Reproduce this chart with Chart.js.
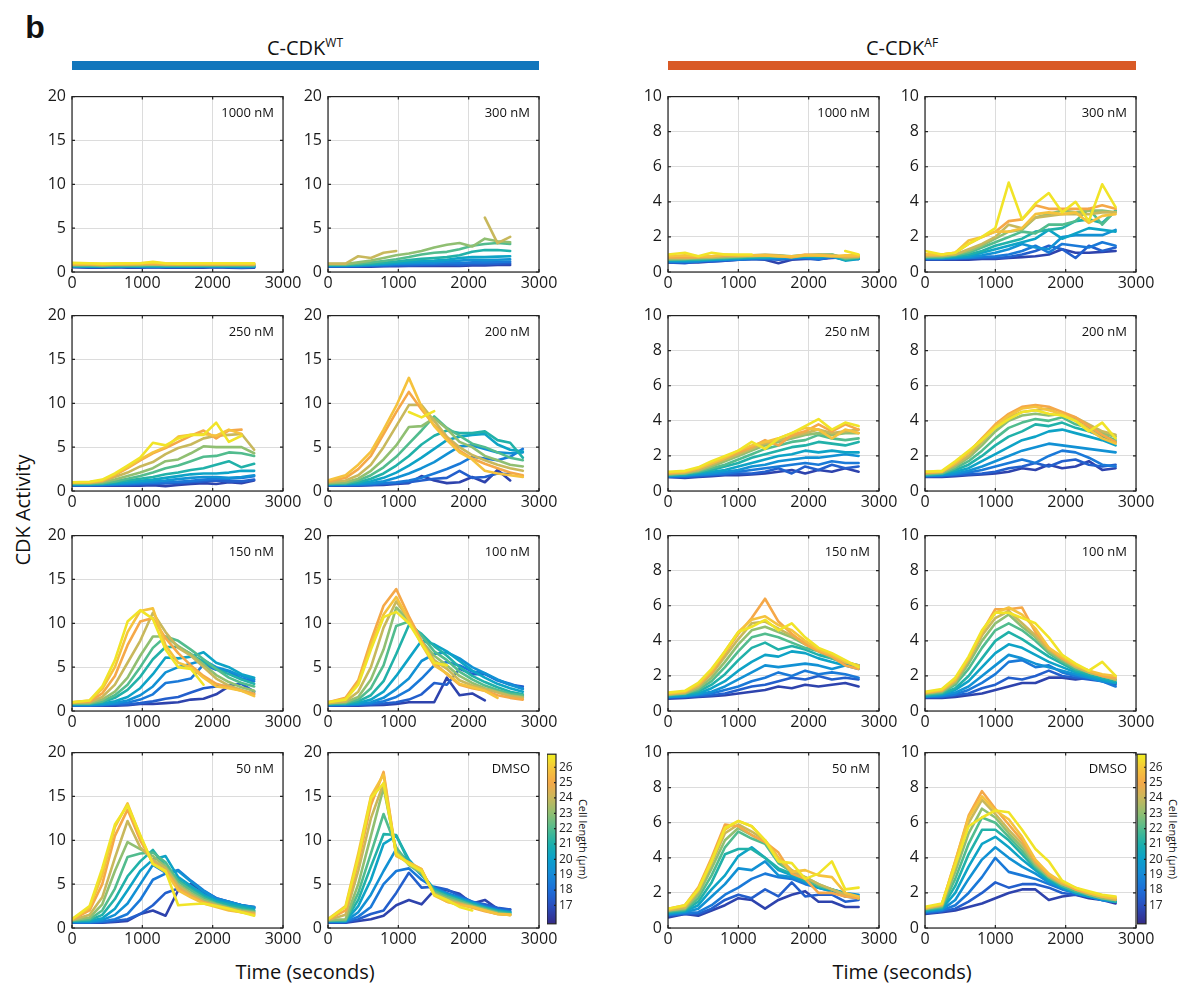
<!DOCTYPE html>
<html><head><meta charset="utf-8">
<script src="https://cdn.jsdelivr.net/npm/chart.js@4"></script>
<style>
body{margin:0;background:#fff;width:1184px;height:1001px;position:relative;overflow:hidden;font-family:'Open Sans',sans-serif;}
canvas{position:absolute;}
.t{position:absolute;white-space:nowrap;color:#111;transform:translate(-50%,-50%);}
.bar{position:absolute;}
</style></head><body>
<div class="t" style="left:35px;top:27px;font:bold 32px 'Liberation Sans',Arial,sans-serif;">b</div>
<div class="t" style="left:305px;top:47px;font-size:20px;">C-CDK<sup style="font-size:12px;vertical-align:8px;">WT</sup></div>
<div class="t" style="left:902px;top:47px;font-size:20px;">C-CDK<sup style="font-size:12px;vertical-align:8px;">AF</sup></div>
<div class="bar" style="left:72px;top:61px;width:467px;height:9px;background:#1176bc;"></div>
<div class="bar" style="left:668px;top:61px;width:468px;height:9px;background:#d95a26;"></div>
<div class="t" style="left:22px;top:510px;font-size:20px;transform:translate(-50%,-50%) rotate(-90deg);">CDK Activity</div>
<div class="t" style="left:305px;top:971px;font-size:20px;">Time (seconds)</div>
<div class="t" style="left:902px;top:971px;font-size:20px;">Time (seconds)</div>
<div class="t" style="left:583px;top:839px;font-size:11px;transform:translate(-50%,-50%) rotate(90deg);">Cell length (μm)</div>
<div class="t" style="left:1173px;top:839px;font-size:11px;transform:translate(-50%,-50%) rotate(90deg);">Cell length (μm)</div>
<script>
// ---------------- DATA ----------------
const timesWT = [0,250,430,610,790,970,1150,1330,1510,1690,1870,2050,2230,2410,2590,2770];
const timesAF = [0,240,430,620,810,1000,1190,1380,1570,1760,1950,2140,2330,2520,2710];
const lengths = [16.6,17.5,18.4,19.3,20.2,21.1,22.0,23.0,24.0,25.0,25.8,26.6];
const xTicks = [0,1000,2000,3000];
const yTicksWT = [0,5,10,15,20];
const yTicksAF = [0,2,4,6,8,10];
const cbTicks = [17,18,19,20,21,22,23,24,25,26];
const cbRange = [15.8,26.85];

const wt1000 = [
 [0.55,0.5,0.5,0.55,0.5,0.5,0.55,0.5,0.5,0.5,0.5,0.55,0.5,0.45,0.5],
 [0.6,0.55,0.55,0.55,0.6,0.55,0.55,0.55,0.55,0.55,0.6,0.55,0.55,0.5,0.55],
 [0.6,0.6,0.6,0.6,0.6,0.6,0.6,0.6,0.6,0.6,0.6,0.6,0.6,0.55,0.6],
 [0.65,0.6,0.6,0.65,0.65,0.6,0.65,0.6,0.65,0.6,0.65,0.65,0.6,0.6,0.6],
 [0.7,0.65,0.65,0.65,0.7,0.65,0.7,0.65,0.65,0.65,0.7,0.7,0.65,0.65,0.65],
 [0.7,0.7,0.7,0.7,0.7,0.7,0.7,0.7,0.7,0.7,0.7,0.7,0.7,0.7,0.7],
 [0.75,0.75,0.7,0.75,0.75,0.75,0.8,0.75,0.75,0.75,0.75,0.75,0.75,0.75,0.75],
 [0.8,0.8,0.75,0.8,0.8,0.8,0.85,0.8,0.8,0.8,0.8,0.8,0.8,0.8,0.8],
 [0.85,0.85,0.8,0.85,0.85,0.85,0.9,0.85,0.85,0.85,0.85,0.85,0.85,0.85,0.85],
 [0.9,0.9,0.85,0.9,0.9,0.95,0.95,0.9,0.9,0.9,0.9,0.9,0.9,0.9,0.9],
 [0.95,0.95,0.9,0.95,0.95,1.0,1.05,0.95,0.95,0.95,0.95,0.95,0.95,0.95,0.95],
 [1.05,1.0,0.95,0.95,1.0,1.0,1.15,1.0,0.95,1.0,1.0,1.0,1.0,1.0,1.0]
];
const wt300 = [
 [0.6,0.6,0.6,0.6,0.65,0.65,0.7,0.7,0.7,0.7,0.7,0.75,0.75,0.8,0.8],
 [0.65,0.65,0.65,0.7,0.7,0.75,0.75,0.8,0.8,0.85,0.8,0.9,0.9,0.95,1.0],
 [0.7,0.7,0.7,0.75,0.8,0.85,0.9,0.9,0.95,1.0,1.0,1.1,1.1,1.15,1.2],
 [0.7,0.7,0.75,0.8,0.85,0.95,1.0,1.05,1.1,1.2,1.3,1.4,1.35,1.4,1.45],
 [0.75,0.75,0.8,0.85,0.95,1.05,1.15,1.25,1.3,1.4,1.6,1.7,1.7,1.75,1.8],
 [0.8,0.8,0.85,0.95,1.05,1.2,1.35,1.5,1.6,1.7,1.9,2.3,2.5,2.5,2.4],
 [0.85,0.85,0.95,1.1,1.25,1.45,1.7,2.0,2.2,2.3,2.6,3.0,3.2,3.3,3.2],
 [0.9,0.9,1.1,1.3,1.6,1.9,2.1,2.4,2.8,3.1,3.3,2.9,3.8,3.5,3.4],
 [0.95,0.95,1.8,1.6,2.2,2.4,null,null,null,null,null,null,6.2,3.3,4.0]
];
const wt250 = [
 [0.6,0.6,0.6,0.6,0.6,0.6,0.65,0.55,0.7,0.8,0.9,0.8,1.0,0.9,1.2],
 [0.65,0.65,0.65,0.7,0.7,0.75,0.8,0.85,0.9,1.0,1.1,1.2,1.1,1.1,1.3],
 [0.7,0.7,0.7,0.75,0.8,0.85,0.95,1.0,1.05,1.15,1.3,1.4,1.4,1.5,1.7],
 [0.7,0.7,0.75,0.8,0.9,1.0,1.1,1.2,1.35,1.5,1.6,1.6,1.5,1.6,1.8],
 [0.75,0.75,0.8,0.9,1.0,1.15,1.3,1.5,1.7,1.9,2.0,2.0,2.1,2.3,2.3],
 [0.8,0.8,0.85,1.0,1.2,1.4,1.6,1.9,2.1,2.4,2.6,3.0,3.4,2.7,3.1],
 [0.85,0.85,0.9,1.1,1.4,1.7,2.1,2.6,2.9,3.4,3.9,4.0,4.4,4.3,4.0],
 [0.9,0.9,1.0,1.3,1.7,2.1,2.6,3.4,3.6,4.3,5.1,5.0,5.0,5.0,4.3],
 [0.95,0.95,1.1,1.6,2.1,2.8,3.3,4.2,4.9,5.3,6.0,6.3,6.4,6.5,4.7],
 [1.0,1.0,1.2,1.8,2.6,3.5,4.3,4.9,5.6,6.3,6.9,6.0,6.9,7.0,null],
 [1.0,1.0,1.2,1.9,2.7,3.6,4.4,5.0,6.2,6.4,6.5,6.3,7.0,6.5,null],
 [1.0,1.05,1.3,2.0,2.9,3.8,5.5,5.2,6.0,6.4,6.4,7.8,5.6,6.3,null]
];
const wt200 = [
 [0.6,0.6,0.6,0.65,0.7,0.8,0.9,1.7,1.2,0.9,1.0,1.6,1.0,2.4,1.2,null],
 [0.65,0.65,0.65,0.7,0.8,0.9,1.0,1.2,1.4,1.5,2.3,1.5,1.6,2.0,1.9,null],
 [0.7,0.7,0.7,0.8,0.9,1.0,1.2,1.5,2.0,2.5,3.1,3.9,3.7,3.5,3.9,4.8],
 [0.7,0.75,0.8,0.9,1.1,1.5,2.0,2.6,3.3,4.2,5.1,5.2,4.8,4.4,4.3,4.4],
 [0.75,0.8,0.9,1.1,1.5,2.1,2.9,3.8,4.8,5.8,6.2,6.4,6.5,5.3,4.7,4.5],
 [0.8,0.85,1.0,1.4,2.0,2.9,4.0,5.3,6.3,6.9,6.6,6.6,6.8,5.8,5.5,3.8],
 [0.85,0.9,1.2,1.8,2.7,3.9,5.4,6.9,8.5,7.2,6.3,5.4,5.0,4.4,3.8,3.5],
 [0.9,1.0,1.4,2.3,3.6,5.2,7.3,7.4,8.3,7.1,5.6,5.0,4.0,3.5,3.0,2.8],
 [1.0,1.2,1.8,3.0,5.0,7.4,9.8,9.8,8.0,6.2,5.0,4.1,3.5,3.0,2.6,2.3],
 [1.1,1.5,2.5,4.0,6.5,9.0,11.3,9.3,7.5,6.0,4.6,3.7,3.1,2.6,2.1,1.8],
 [1.2,1.8,3.0,4.5,7.0,9.7,12.9,9.6,7.4,5.8,4.4,3.6,2.3,2.0,1.8,1.6],
 [null,null,null,null,null,null,9.0,8.4,9.1,null,null,null,null,null,null,null]
];
const wt150 = [
 [0.6,0.6,0.6,0.6,0.65,0.8,0.8,0.9,1.0,1.3,1.4,1.9,2.8],
 [0.6,0.6,0.65,0.7,0.75,0.9,1.1,1.4,1.6,2.1,2.6,2.8,2.9,3.1,2.2],
 [0.65,0.65,0.7,0.8,0.95,1.3,1.9,3.2,3.4,3.7,5.3,4.7,4.5,3.7,3.4],
 [0.7,0.7,0.75,0.9,1.2,1.8,2.8,4.4,5.0,5.4,5.8,5.0,4.6,4.0,3.6],
 [0.75,0.75,0.85,1.1,1.6,2.6,4.2,6.1,6.0,6.2,6.7,5.5,5.0,4.2,3.8],
 [0.8,0.8,1.0,1.5,2.4,3.9,5.9,7.3,7.3,6.5,5.6,4.8,4.2,3.6,3.1],
 [0.85,0.85,1.1,1.8,3.0,5.0,7.2,8.5,8.0,7.0,5.9,4.8,3.8,3.2,2.8],
 [0.9,0.9,1.3,2.2,3.8,6.3,8.5,8.5,7.4,6.5,5.3,4.1,3.3,2.7,2.3],
 [0.95,1.0,1.6,3.0,5.5,8.0,11.2,9.0,7.2,6.3,5.0,3.7,2.9,2.4,2.0],
 [1.0,1.1,2.0,4.0,7.5,10.2,10.6,8.3,6.6,5.2,4.0,3.1,2.7,2.3,1.9],
 [1.0,1.2,2.5,5.0,9.0,11.4,11.7,7.5,5.5,5.0,3.8,2.8,2.6,2.3,1.7],
 [1.0,1.2,2.8,5.8,10.2,11.5,10.5,7.0,5.0,4.8,3.0]
];
const wt100 = [
 [0.6,0.6,0.6,0.65,0.7,0.8,1.0,1.0,1.0,3.8,1.8,2.0,1.2],
 [0.65,0.65,0.7,0.75,0.85,1.0,1.3,1.9,3.2,3.0,4.8,4.2,4.2,3.5,3.0,2.8],
 [0.7,0.7,0.75,0.85,1.1,1.6,2.4,3.7,5.2,5.6,5.2,4.5,4.3,3.5,3.1,2.6],
 [0.7,0.75,0.8,1.0,1.5,2.5,3.7,5.7,6.5,6.7,6.0,5.0,4.3,3.6,3.0,2.5],
 [0.75,0.8,0.9,1.3,2.2,4.0,6.0,8.0,7.6,6.8,5.7,4.6,3.8,3.1,2.6,2.2],
 [0.8,0.85,1.1,1.8,3.4,6.5,9.8,8.8,7.4,6.3,5.0,4.0,3.3,2.7,2.2,1.9],
 [0.85,0.9,1.3,2.6,5.2,9.7,10.2,8.6,6.8,5.8,4.5,3.6,2.9,2.4,2.0,1.8],
 [0.9,1.0,1.6,3.6,7.0,11.8,10.3,8.0,6.3,5.2,4.0,3.2,2.6,2.2,1.8,1.6],
 [0.9,1.1,2.2,5.0,9.5,12.5,10.5,7.8,5.8,4.8,3.5,2.9,2.5,2.1,1.7,1.5],
 [1.0,1.5,3.5,8.0,12.0,13.9,10.8,8.0,5.5,4.2,3.0,2.6,2.3,1.8,1.5,1.3],
 [1.0,1.4,3.2,7.5,11.0,13.0,10.4,7.6,5.2,4.3,3.1,2.7,2.3,1.5],
 [1.0,1.3,3.0,7.0,10.7,11.3,10.0,7.7,5.5,5.2]
];
const wt50 = [
 [0.6,0.6,0.6,0.7,0.8,1.6,2.0,1.4,4.3,5.0,4.2,3.4,3.0,2.6,2.4],
 [0.6,0.6,0.65,0.8,1.0,1.6,2.6,4.0,4.5,4.6,4.0,3.3,2.9,2.6,2.3],
 [0.65,0.65,0.75,1.0,1.6,3.2,5.5,6.2,6.6,5.4,4.3,3.4,3.0,2.6,2.3],
 [0.7,0.7,0.9,1.5,2.8,5.0,7.2,6.3,6.5,5.3,4.2,3.3,3.0,2.6,2.4],
 [0.75,0.8,1.1,2.2,4.3,6.5,7.8,8.2,5.8,4.8,3.8,3.1,2.8,2.5,2.2],
 [0.8,0.9,1.5,3.3,5.9,7.6,8.9,7.0,5.5,4.5,3.6,3.0,2.6,2.3,2.0],
 [0.85,1.0,2.0,4.5,8.1,8.5,8.6,7.5,5.3,4.3,3.4,2.8,2.4,2.1,1.9],
 [0.9,1.2,2.7,6.5,9.8,9.0,8.2,7.0,5.0,4.0,3.2,2.7,2.3,2.0,1.8],
 [0.9,1.5,3.5,8.0,12.2,9.2,7.8,6.8,4.8,3.8,3.0,2.6,2.2,1.9,1.7],
 [0.95,2.0,5.0,10.5,13.5,10.0,7.5,6.5,4.5,3.6,2.9,2.5,2.1,1.8,1.6],
 [1.0,2.3,6.0,11.5,14.2,10.5,7.3,6.4,4.3,3.5,2.8,2.4,2.0,1.8,1.5],
 [1.0,2.5,6.8,11.8,14.0,10.6,7.3,6.5,2.6,2.7,2.8,2.5,2.2,1.8,1.4]
];
const wtDMSO = [
 [0.6,0.6,0.8,1.0,1.4,2.6,3.2,2.7,4.3,4.3,3.9,2.8,3.2,2.2,2.1],
 [0.65,0.65,1.0,1.6,2.0,4.0,6.3,4.6,4.7,4.4,3.7,3.0,2.7,2.3,2.1],
 [0.7,0.7,1.3,2.4,5.0,6.5,6.8,5.5,4.6,4.0,3.5,3.0,2.5,2.1,1.9],
 [0.75,0.75,1.8,3.8,6.5,9.0,7.5,6.0,4.5,3.9,3.4,2.9,2.4,2.0,1.8],
 [0.8,0.8,2.5,5.5,9.6,10.5,7.8,6.2,4.4,3.8,3.3,2.8,2.3,2.0,1.8],
 [0.85,0.85,3.2,7.0,10.7,10.6,7.5,6.3,4.3,3.7,3.2,2.7,2.3,1.9,1.7],
 [0.85,0.9,4.0,8.5,13.0,9.2,7.2,6.2,4.2,3.6,3.1,2.6,2.2,1.8,1.6],
 [0.9,1.0,5.0,10.5,16.0,8.8,7.2,6.3,4.0,3.4,2.9,2.5,2.1,1.7,1.5],
 [0.9,1.5,6.5,12.5,16.5,8.5,7.3,6.5,3.9,3.2,2.8,2.4,2.0,1.6,1.5],
 [0.95,2.0,7.5,14.0,17.8,8.3,7.4,6.7,3.8,3.0,2.7,2.3,1.9,1.6,1.5],
 [1.0,2.5,8.5,15.0,17.5,8.2,7.5,6.7,3.7,3.0,2.6,2.4,2.0,1.6,1.5],
 [1.0,2.4,8.0,14.8,16.5,8.5,7.3,6.5,3.8,3.2,2.4,2.0]
];
const af1000 = [
 [0.55,0.55,0.55,0.6,0.65,0.7,0.75,0.7,0.5,0.7,0.75,0.75,0.8,0.85,0.75],
 [0.55,0.5,0.6,0.6,0.65,0.7,0.75,0.75,0.7,0.75,0.8,0.7,0.85,0.8,0.8],
 [0.6,0.6,0.65,0.65,0.7,0.7,0.75,0.75,0.75,0.8,0.8,0.75,0.85,0.7,0.75],
 [0.6,0.6,0.6,0.7,0.7,0.75,0.8,0.8,0.8,0.8,0.85,0.85,0.9,0.7,0.8],
 [0.65,0.65,0.7,0.7,0.75,0.8,0.8,0.85,0.85,0.85,0.9,0.85,0.9,0.65,0.75],
 [0.7,0.7,0.7,0.75,0.8,0.8,0.85,0.85,0.9,0.85,0.9,0.9,0.95,0.7,0.8],
 [0.7,0.75,0.75,0.8,0.8,0.85,0.9,0.9,0.9,0.9,0.95,0.95,1.0,0.75,0.85],
 [0.75,0.75,0.8,0.8,0.85,0.9,0.9,0.95,0.95,0.9,0.95,1.0,1.0,0.8,0.85],
 [0.8,0.8,0.85,0.85,0.9,0.9,0.95,1.0,0.95,0.85,0.95,1.0,0.95,0.85,0.9],
 [0.85,0.85,0.85,0.9,0.95,0.95,0.95,0.95,0.9,0.85,1.0,0.95,0.9,0.9,0.9],
 [0.9,0.95,0.9,0.9,1.0,0.95,0.95,0.95,0.9,0.9,0.95,0.95,0.9,0.95,0.95],
 [1.0,1.1,0.9,1.1,1.0,1.0,1.0,null,null,null,null,null,null,1.2,1.0]
];
const af300 = [
 [0.7,0.7,0.7,0.7,0.75,0.75,0.8,0.85,0.9,1.0,1.3,1.1,1.1,1.15,1.2],
 [0.75,0.75,0.75,0.8,0.8,0.8,0.85,1.0,1.2,1.5,1.3,0.8,1.5,1.2,1.4],
 [0.75,0.75,0.8,0.8,0.85,0.9,1.0,1.2,1.5,1.1,1.6,1.5,1.4,1.7,1.5],
 [0.8,0.8,0.8,0.85,0.95,1.1,1.3,1.6,1.4,1.3,2.0,2.1,2.1,2.1,2.4],
 [0.8,0.8,0.85,0.9,1.1,1.3,1.5,1.7,1.9,2.4,1.9,2.2,2.5,2.4,2.3],
 [0.85,0.85,0.9,1.0,1.2,1.5,1.7,1.9,2.3,2.4,2.5,2.9,3.0,2.8,3.5],
 [0.85,0.85,0.95,1.1,1.4,1.7,2.0,2.3,2.2,2.7,2.7,2.9,3.6,2.7,3.5],
 [0.9,0.9,1.0,1.2,1.5,1.9,2.3,2.4,3.1,3.3,3.5,3.4,3.5,3.5,3.4],
 [0.9,0.95,1.0,1.3,1.6,2.0,2.7,2.5,3.1,3.2,3.3,3.3,3.3,3.4,3.4],
 [1.0,1.0,1.1,1.6,2.0,2.3,2.9,3.0,3.8,3.6,3.6,3.6,3.6,3.8,3.6],
 [1.0,1.0,1.1,1.8,2.0,2.3,2.3,2.5,3.3,3.4,3.3,3.4,2.8,3.2,3.3],
 [1.2,1.0,1.1,1.6,2.0,2.5,5.1,3.0,3.9,4.5,3.4,4.0,2.9,5.0,3.7]
];
const af250 = [
 [0.8,0.75,0.8,0.85,0.9,0.9,0.95,1.0,1.1,1.2,1.0,1.2,1.1,1.3,1.1],
 [0.8,0.8,0.85,0.9,0.95,1.0,1.0,1.1,1.3,1.0,1.4,1.2,1.5,1.3,1.4],
 [0.85,0.85,0.9,0.95,1.0,1.1,1.2,1.3,1.4,1.5,1.6,1.5,1.7,1.6,1.6],
 [0.85,0.9,0.95,1.0,1.1,1.2,1.4,1.5,1.7,1.8,1.9,1.9,2.0,2.1,2.0],
 [0.9,0.9,1.0,1.1,1.2,1.4,1.6,1.8,2.0,2.1,2.3,2.2,2.3,2.2,2.2],
 [0.9,0.95,1.05,1.2,1.4,1.6,1.9,2.1,2.3,2.5,2.6,2.8,2.7,2.6,2.8],
 [0.95,1.0,1.1,1.3,1.5,1.8,2.1,2.4,2.6,2.8,2.9,3.2,3.0,2.9,3.0],
 [0.95,1.0,1.15,1.4,1.7,2.0,2.3,2.6,2.8,3.0,3.2,3.3,3.2,3.3,3.3],
 [1.0,1.05,1.2,1.5,1.8,2.1,2.4,2.7,2.9,3.1,3.3,3.5,3.3,3.4,3.5],
 [1.0,1.1,1.3,1.6,1.9,2.2,2.5,2.9,2.6,3.2,3.4,3.8,3.4,3.8,3.5],
 [1.05,1.1,1.3,1.6,1.9,2.3,2.6,2.8,3.0,3.3,3.6,3.5,3.0,3.5,3.3],
 [1.1,1.15,1.35,1.7,2.0,2.3,2.8,2.4,3.0,3.3,3.7,4.1,3.5,3.9,3.7]
];
const af200 = [
 [0.8,0.8,0.85,0.9,0.95,1.0,1.1,1.3,1.2,1.5,1.3,1.4,1.7,1.2,1.3],
 [0.85,0.85,0.9,0.95,1.0,1.1,1.3,1.4,1.6,1.4,1.7,1.8,1.5,1.4,1.5],
 [0.85,0.9,0.95,1.05,1.2,1.4,1.6,1.8,1.6,2.0,2.3,2.2,1.9,1.5,1.4],
 [0.9,0.9,1.0,1.15,1.4,1.7,2.0,2.3,2.5,2.7,2.6,2.5,2.4,2.3,2.2],
 [0.9,0.95,1.1,1.3,1.7,2.1,2.5,2.9,3.1,3.4,3.5,3.3,3.1,2.9,2.6],
 [0.95,1.0,1.2,1.5,2.0,2.6,3.1,3.4,3.8,3.7,3.9,3.6,3.4,3.1,2.8],
 [0.95,1.0,1.3,1.7,2.3,3.0,3.6,3.9,4.1,4.0,4.2,3.8,3.6,3.2,2.9],
 [1.0,1.05,1.4,1.9,2.6,3.4,4.0,4.3,4.4,4.3,4.4,4.1,3.7,3.3,3.1],
 [1.0,1.1,1.5,2.0,2.8,3.6,4.2,4.5,4.6,4.7,4.3,4.2,3.8,3.4,3.2],
 [1.05,1.1,1.6,2.2,3.0,3.8,4.4,4.8,4.9,4.8,4.5,4.2,3.7,3.2,2.8],
 [1.1,1.1,1.6,2.2,3.0,3.7,4.3,4.7,4.8,4.6,4.4,4.0,3.5,3.0,2.7],
 [1.1,1.15,1.7,2.3,2.9,3.6,4.1,4.5,4.6,4.4,4.3,4.0,3.4,3.9,3.0]
];
const af150 = [
 [0.7,0.75,0.8,0.85,0.9,1.0,1.1,1.2,1.4,1.3,1.5,1.4,1.5,1.6,1.4],
 [0.75,0.8,0.85,0.9,1.0,1.2,1.4,1.5,1.7,1.9,1.8,2.0,1.8,1.9,1.8],
 [0.8,0.85,0.9,1.0,1.2,1.4,1.7,1.9,2.2,2.0,2.3,2.1,2.2,2.1,1.9],
 [0.8,0.85,0.95,1.1,1.4,1.8,2.2,2.6,2.5,2.6,2.7,2.6,2.4,2.6,2.4],
 [0.85,0.9,1.0,1.3,1.7,2.3,2.8,3.2,3.1,3.4,3.3,3.0,2.8,2.6,2.5],
 [0.9,0.95,1.1,1.5,2.1,2.9,3.6,3.9,3.5,3.7,3.5,3.2,3.0,2.7,2.6],
 [0.9,1.0,1.2,1.7,2.5,3.4,4.2,4.4,4.2,3.9,3.6,3.4,3.0,2.8,2.6],
 [0.95,1.0,1.3,1.9,2.8,3.8,4.6,4.8,4.5,4.2,3.8,3.5,3.1,2.8,2.6],
 [0.95,1.05,1.4,2.1,3.1,4.1,5.0,5.1,4.7,4.3,3.9,3.5,3.2,2.8,2.5],
 [1.0,1.1,1.5,2.2,3.3,4.4,5.3,6.4,5.1,4.4,3.8,3.4,3.1,2.6,2.4],
 [1.0,1.1,1.5,2.3,3.4,4.5,5.2,5.4,4.9,4.6,4.0,3.5,3.2,2.8,2.6],
 [1.05,1.15,1.6,2.4,3.4,4.5,4.8,5.2,4.6,5.0,4.2,3.6,3.3,2.9,2.5]
];
const af100 = [
 [0.75,0.75,0.8,0.9,1.0,1.2,1.4,1.6,1.6,1.9,1.9,1.8,1.9,1.8,1.6],
 [0.8,0.8,0.9,1.0,1.3,1.5,1.9,1.8,2.0,2.3,2.0,1.9,1.8,1.7,1.5],
 [0.8,0.85,0.95,1.2,1.6,2.1,2.8,2.9,2.5,2.6,2.2,2.0,1.9,1.7,1.4],
 [0.85,0.9,1.05,1.4,2.0,2.6,3.2,3.0,2.7,2.5,2.3,2.1,1.9,1.7,1.6],
 [0.85,0.95,1.2,1.7,2.5,3.3,3.8,3.6,3.2,2.8,2.5,2.2,2.0,1.8,1.6],
 [0.9,1.0,1.3,2.0,3.0,4.0,4.5,4.1,3.6,3.1,2.7,2.3,2.1,1.9,1.7],
 [0.95,1.05,1.5,2.4,3.6,4.6,5.0,4.6,4.0,3.3,2.8,2.4,2.2,2.0,1.8],
 [1.0,1.1,1.6,2.7,4.0,5.0,5.5,4.8,4.2,3.4,2.9,2.5,2.2,2.0,1.8],
 [1.0,1.15,1.7,2.9,4.3,5.3,5.7,5.0,4.3,3.5,3.0,2.5,2.2,2.0,1.8],
 [1.05,1.2,1.8,3.0,4.5,5.8,5.8,5.9,4.5,3.6,3.0,2.6,2.3,2.0,1.9],
 [1.05,1.2,1.8,3.0,4.5,5.6,5.9,5.5,4.7,3.6,3.1,2.6,2.3,2.1,2.0],
 [1.1,1.25,1.9,3.1,4.6,5.6,5.6,5.3,5.0,4.2,3.2,2.7,2.3,2.8,2.0]
];
const af50 = [
 [0.6,0.8,0.7,1.0,1.3,1.7,1.6,1.1,1.6,1.9,2.1,1.5,1.5,1.2,1.2],
 [0.7,0.8,0.8,1.1,1.6,1.9,1.7,2.2,1.8,2.6,1.8,1.9,1.9,1.5,1.6],
 [0.75,0.85,0.9,1.3,1.9,2.3,2.8,3.1,2.9,2.8,2.5,2.3,2.1,1.8,1.7],
 [0.8,0.9,1.1,1.8,2.5,3.4,3.3,3.8,3.0,2.9,2.6,2.3,2.2,2.0,1.9],
 [0.85,0.95,1.3,2.2,3.0,4.1,4.6,4.0,3.3,3.0,2.7,2.3,2.1,2.0,1.8],
 [0.9,1.0,1.5,2.6,4.2,4.5,4.5,4.0,3.4,3.1,2.7,2.4,2.2,2.0,1.7],
 [0.95,1.05,1.7,3.0,4.6,5.5,5.1,4.8,3.7,3.2,2.8,2.4,2.2,1.9,1.7],
 [1.0,1.1,1.9,3.4,5.0,5.7,5.3,4.9,3.8,3.2,2.9,2.5,2.2,1.9,1.7],
 [1.0,1.15,2.1,3.7,5.4,5.9,5.5,5.0,4.0,3.3,2.9,2.5,2.2,1.9,1.7],
 [1.1,1.3,2.3,4.0,5.9,5.8,5.3,4.9,4.3,3.1,2.8,2.0,2.0,1.8,1.7],
 [1.05,1.25,2.2,3.9,5.6,6.1,5.8,5.0,4.0,3.2,3.3,3.0,2.9,2.0,1.8],
 [1.1,1.3,2.2,3.8,5.7,6.1,5.8,5.0,3.8,3.7,2.8,3.1,3.8,2.2,2.3]
];
const afDMSO = [
 [0.8,0.9,1.0,1.2,1.4,1.7,2.0,2.2,2.2,1.6,1.8,1.9,1.7,1.6,1.4],
 [0.85,0.95,1.1,1.5,2.0,2.6,2.3,2.5,2.5,2.3,2.0,1.9,1.8,1.6,1.5],
 [0.9,1.0,1.3,2.0,2.9,4.0,3.2,3.0,2.8,2.5,2.2,2.0,1.8,1.6,1.5],
 [0.95,1.05,1.6,2.8,3.9,4.6,4.0,3.5,3.1,2.6,2.3,2.0,1.8,1.6,1.5],
 [1.0,1.1,2.0,3.5,4.8,5.2,4.6,3.9,3.3,2.7,2.3,2.0,1.8,1.7,1.5],
 [1.0,1.15,2.4,4.2,5.6,5.6,5.0,4.2,3.4,2.8,2.4,2.1,1.9,1.7,1.5],
 [1.05,1.2,2.8,4.8,6.3,6.0,5.2,4.4,3.5,2.9,2.4,2.1,1.9,1.7,1.6],
 [1.1,1.25,3.2,5.4,6.8,6.3,5.4,4.6,3.6,2.9,2.5,2.2,1.9,1.7,1.6],
 [1.1,1.3,3.5,6.0,7.3,6.5,5.6,4.8,3.7,3.0,2.5,2.2,2.0,1.8,1.6],
 [1.15,1.35,3.8,6.4,7.8,6.8,5.9,5.0,3.8,3.0,2.6,2.2,2.0,1.8,1.7],
 [1.15,1.35,3.8,6.3,7.5,6.7,6.2,5.2,3.9,3.1,2.6,2.3,2.0,1.8,1.7],
 [1.2,1.4,3.6,5.8,6.3,6.7,6.6,5.6,4.5,3.8,2.7,2.3,2.1,1.9,1.8]
];
const panelLabels = ['1000 nM','300 nM','250 nM','200 nM','150 nM','100 nM','50 nM','DMSO'];

// ---------------- LAYOUT ----------------
const colLeft = [72, 328, 668, 925];
const rowTop = [95, 314, 534, 751];
const PW = 211, PH = 177;
const PADL = 55, PADT = 14, PADR = 25, PADB = 28;

const cmapStops = [[15.8,'#352a87'],[17,'#2a50c0'],[18,'#1c6ed8'],[19,'#168ad8'],[20,'#0aa0cc'],[21,'#1cb0ac'],[22,'#52bc8e'],[23,'#90bf72'],[24,'#c8b85c'],[25,'#f5a848'],[26,'#f5c83a'],[26.85,'#f0f020']];
function hex2rgb(h){return [parseInt(h.substr(1,2),16),parseInt(h.substr(3,2),16),parseInt(h.substr(5,2),16)];}
function cmap(v){
  if(v<=cmapStops[0][0]) return cmapStops[0][1];
  for(let i=1;i<cmapStops.length;i++){
    if(v<=cmapStops[i][0]){
      const [v0,c0]=cmapStops[i-1],[v1,c1]=cmapStops[i];
      const f=(v-v0)/(v1-v0), a=hex2rgb(c0), b=hex2rgb(c1);
      return 'rgb('+a.map((x,k)=>Math.round(x+(b[k]-x)*f)).join(',')+')';
    }
  }
  return cmapStops[cmapStops.length-1][1];
}

const framePlugin = {
  id:'frame',
  afterDraw(chart, args, opts){
    const {ctx, chartArea:a, scales} = chart;
    ctx.save();
    ctx.strokeStyle='#222'; ctx.lineWidth=1.2;
    ctx.strokeRect(a.left, a.top, a.right-a.left, a.bottom-a.top);
    ctx.beginPath();
    if(!opts.noX){
      scales.x.ticks.forEach(t=>{const px=scales.x.getPixelForValue(t.value);
        ctx.moveTo(px,a.bottom); ctx.lineTo(px,a.bottom-3); ctx.moveTo(px,a.top); ctx.lineTo(px,a.top+3);});
      scales.y.ticks.forEach(t=>{const py=scales.y.getPixelForValue(t.value);
        ctx.moveTo(a.left,py); ctx.lineTo(a.left+3,py); ctx.moveTo(a.right,py); ctx.lineTo(a.right-3,py);});
    } else {
      scales.y.ticks.forEach(t=>{const py=scales.y.getPixelForValue(t.value);
        ctx.moveTo(a.right,py); ctx.lineTo(a.right-2,py);});
    }
    ctx.stroke();
    if(opts.text){
      ctx.font='13px "Open Sans"'; ctx.fillStyle='#111';
      ctx.textAlign='right'; ctx.textBaseline='middle';
      ctx.fillText(opts.text, a.right-9, a.top+17);
    }
    ctx.restore();
  }
};

function makeCanvas(left, top, w, h){
  const c=document.createElement('canvas');
  c.width=w; c.height=h;
  c.style.left=left+'px'; c.style.top=top+'px';
  c.style.width=w+'px'; c.style.height=h+'px';
  document.body.appendChild(c);
  return c;
}

function makePanel(series, times, label, col, row, ymax, yticks){
  const c = makeCanvas(colLeft[col]-PADL, rowTop[row]-PADT, PADL+PW+PADR, PADT+PH+PADB);
  const datasets = series.map((ys,i)=>({
    data: ys.map((y,k)=>({x:times[k], y:y})),
    borderColor: cmap(lengths[i]),
    borderWidth: 2.6, pointRadius: 0, fill: false, tension: 0,
    borderJoinStyle: 'round', borderCapStyle: 'round',
    order: 100-i, spanGaps: false
  }));
  const tickFont = {family:"'Open Sans', sans-serif", size:16};
  new Chart(c, {
    type:'line',
    data:{datasets},
    options:{
      responsive:false, animation:false, events:[],
      layout:{padding:{left:0, top:PADT, right:PADR, bottom:0}},
      plugins:{legend:{display:false}, tooltip:{enabled:false}, frame:{text:label}},
      scales:{
        x:{type:'linear', min:0, max:3000,
           afterBuildTicks:s=>{s.ticks = xTicks.map(v=>({value:v}));},
           ticks:{font:tickFont, color:'#1a1a1a', padding:2, maxRotation:0, autoSkip:false, callback:v=>String(v)},
           grid:{color:'#dcdcdc', lineWidth:1, drawTicks:false},
           border:{display:false},
           afterFit:s=>{s.height=PADB;}},
        y:{type:'linear', min:0, max:ymax,
           afterBuildTicks:s=>{s.ticks = yticks.map(v=>({value:v}));},
           ticks:{font:tickFont, color:'#1a1a1a', padding:6, callback:v=>String(v)},
           grid:{color:'#dcdcdc', lineWidth:1, drawTicks:false},
           border:{display:false},
           afterFit:s=>{s.width=PADL;}}
      }
    },
    plugins:[framePlugin]
  });
}

function makeColorbar(left, top, w, h){
  const c = makeCanvas(left, top-10, w+32, h+20);
  new Chart(c, {
    type:'bar',
    data:{labels:['c'], datasets:[{
      data:[cbRange],
      barPercentage:1, categoryPercentage:1, borderWidth:0, borderSkipped:false,
      backgroundColor:(ctx)=>{
        const ch=ctx.chart, a=ch.chartArea; if(!a) return '#888';
        const ys=ch.scales.y;
        const g=ch.ctx.createLinearGradient(0,ys.getPixelForValue(cbRange[0]),0,ys.getPixelForValue(cbRange[1]));
        const n=40;
        for(let i=0;i<=n;i++){const v=cbRange[0]+(cbRange[1]-cbRange[0])*i/n; g.addColorStop(i/n, cmap(v));}
        return g;
      }
    }]},
    options:{
      responsive:false, animation:false, events:[],
      layout:{padding:{left:0, top:10, right:0, bottom:10}},
      plugins:{legend:{display:false}, tooltip:{enabled:false}, frame:{noX:true}},
      scales:{
        x:{display:false},
        y:{position:'right', min:cbRange[0], max:cbRange[1],
           afterBuildTicks:s=>{s.ticks = cbTicks.map(v=>({value:v}));},
           ticks:{font:{family:"'Open Sans', sans-serif", size:12}, color:'#222', padding:3},
           grid:{display:false, drawTicks:false}, border:{display:false},
           afterFit:s=>{s.width=32;}}
      }
    },
    plugins:[framePlugin]
  });
}

const wtSets = [wt1000, wt300, wt250, wt200, wt150, wt100, wt50, wtDMSO];
const afSets = [af1000, af300, af250, af200, af150, af100, af50, afDMSO];
wtSets.forEach((s,i)=>makePanel(s, timesWT, panelLabels[i], i%2, Math.floor(i/2), 20, yTicksWT));
afSets.forEach((s,i)=>makePanel(s, timesAF, panelLabels[i], 2+i%2, Math.floor(i/2), 10, yTicksAF));
makeColorbar(547, 754, 9, 170);
makeColorbar(1137, 754, 9, 170);
</script>
</body></html>
